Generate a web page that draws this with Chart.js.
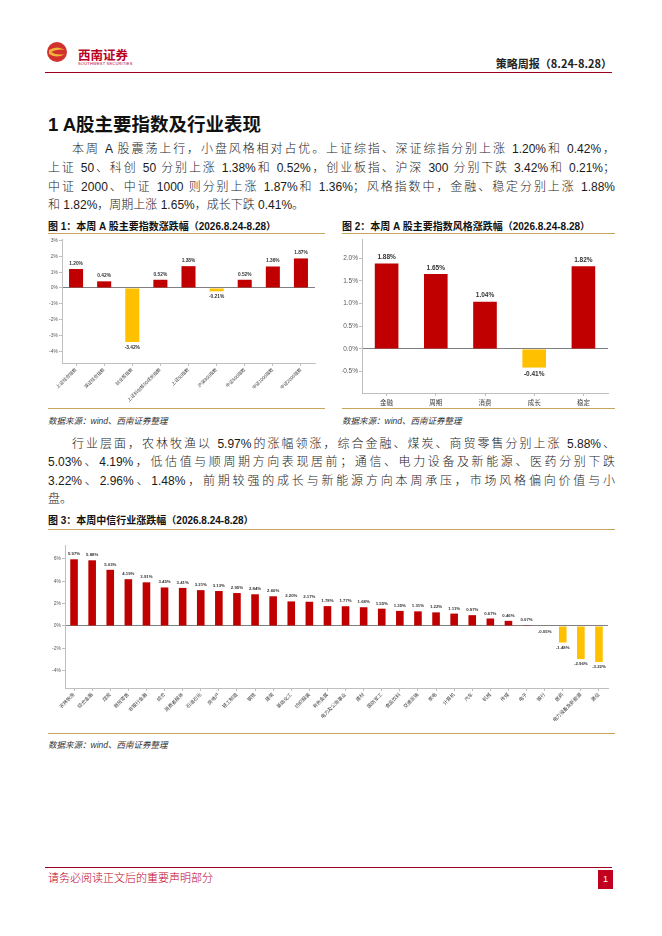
<!DOCTYPE html>
<html>
<head>
<meta charset="utf-8">
<script src="https://cdn.jsdelivr.net/npm/chart.js@4"></script>
<style>
  body { margin: 0; background: #fff; width: 662px; height: 936px; position: relative; overflow: hidden;
         font-family: "Liberation Sans", "Noto Sans CJK SC", sans-serif; color: #222; }
  .abs { position: absolute; }
  .line { position: absolute; left: 48px; width: 567px; font-size: 12px; line-height: 18px; white-space: nowrap;
          font-weight: 300; color: #1a1a1a; }
  .just { text-align: justify; text-align-last: justify; white-space: normal; }
  .cap { position: absolute; font-size: 10px; font-weight: bold; color: #111; white-space: nowrap; }
  .src { position: absolute; font-size: 8.5px; font-style: italic; color: #333; white-space: nowrap; }
  .gold { position: absolute; height: 1px; background: #C9A55C; }
  .box { position: absolute; }
</style>
</head>
<body>
<!-- header -->
<svg class="abs" style="left:46px;top:41px" width="22" height="22" viewBox="0 0 22 22">
  <circle cx="11" cy="11" r="10" fill="#D0312D"/>
  <path d="M3 9 Q11 4 19 9 Q11 7 3 12 Z" fill="#F2B33D"/>
  <path d="M3 13 Q11 18 19 13 Q11 15 3 10 Z" fill="#F2B33D"/>
</svg>
<div class="abs" style="left:78px;top:45px;font-size:12.5px;font-weight:bold;color:#B8001F;font-family:'Noto Sans CJK SC'">西南证券</div>
<div class="abs" style="left:78px;top:61px;font-size:4px;color:#B8001F;letter-spacing:0.2px">SOUTHWEST SECURITIES</div>
<div class="abs" style="right:50px;top:55px;font-size:11px;font-weight:bold;color:#222;font-family:'Noto Sans CJK SC'">策略周报（8.24-8.28）</div>
<div class="abs" style="left:45px;top:72px;width:567px;height:1px;background:#A0001E"></div>

<div class="abs" style="left:48px;top:110px;font-size:18.5px;font-weight:bold;color:#111">1 A股主要指数及行业表现</div>

<div class="line just" style="top:140px;padding-left:24px;width:543px">本周 A 股震荡上行，小盘风格相对占优。上证综指、深证综指分别上涨 1.20%和 0.42%，</div>
<div class="line just" style="top:159px">上证 50、科创 50 分别上涨 1.38%和 0.52%，创业板指、沪深 300 分别下跌 3.42%和 0.21%；</div>
<div class="line just" style="top:178px">中证 2000、中证 1000 则分别上涨 1.87%和 1.36%；风格指数中，金融、稳定分别上涨 1.88%</div>
<div class="line" style="top:196px">和 1.82%，周期上涨 1.65%，成长下跌 0.41%。</div>

<div class="cap" style="left:48px;top:218px">图 1：本周 A 股主要指数涨跌幅（2026.8.24-8.28）</div>
<div class="cap" style="left:342px;top:218px">图 2：本周 A 股主要指数风格涨跌幅（2026.8.24-8.28）</div>
<div class="gold" style="left:48px;top:233px;width:277px"></div>
<div class="gold" style="left:342px;top:233px;width:273px"></div>
<div class="box" style="left:48px;top:235px;width:277px;height:170px"><canvas id="chart1"></canvas></div>
<div class="box" style="left:342px;top:235px;width:273px;height:172px"><canvas id="chart2"></canvas></div>
<div class="gold" style="left:48px;top:408px;width:277px"></div>
<div class="gold" style="left:342px;top:408px;width:273px"></div>
<div class="src" style="left:48px;top:414px">数据来源：wind、西南证券整理</div>
<div class="src" style="left:342px;top:414px">数据来源：wind、西南证券整理</div>

<div class="line just" style="top:435px;padding-left:24px;width:543px">行业层面，农林牧渔以 5.97%的涨幅领涨，综合金融、煤炭、商贸零售分别上涨 5.88%、</div>
<div class="line just" style="top:453px">5.03%、4.19%，低估值与顺周期方向表现居前；通信、电力设备及新能源、医药分别下跌</div>
<div class="line just" style="top:472px">3.22%、2.96%、1.48%，前期较强的成长与新能源方向本周承压，市场风格偏向价值与小</div>
<div class="line" style="top:490px">盘。</div>

<div class="cap" style="left:48px;top:512px">图 3：本周中信行业涨跌幅（2026.8.24-8.28）</div>
<div class="gold" style="left:48px;top:529px;width:567px"></div>
<div class="box" style="left:48px;top:532px;width:567px;height:200px"><canvas id="chart3"></canvas></div>
<div class="gold" style="left:48px;top:733px;width:567px"></div>
<div class="src" style="left:48px;top:738px">数据来源：wind、西南证券整理</div>

<!-- footer -->
<div class="abs" style="left:45px;top:867px;width:567px;height:1px;background:#A0001E"></div>
<div class="abs" style="left:48px;top:869px;font-size:11px;color:#C0002A;font-family:'Noto Sans CJK SC';font-weight:300">请务必阅读正文后的重要声明部分</div>
<div class="abs" style="left:598px;top:870px;width:15px;height:19px;background:#C0001E;color:#fff;font-size:9px;text-align:center;line-height:19px">1</div>

<script>
// 图1 主要指数
const indexLabels = ["上证综合指数", "深证综合指数", "创业板指数", "上证科创板50成份指数", "上证50指数",
  "沪深300指数", "中证500指数", "中证1000指数", "中证2000指数"];
const indexValues = [1.20, 0.42, -3.42, 0.52, 1.38, -0.21, 0.52, 1.36, 1.87];

// 图2 风格指数
const styleLabels = ["金融", "周期", "消费", "成长", "稳定"];
const styleValues = [1.88, 1.65, 1.04, -0.41, 1.82];

// 图3 中信行业
const industryLabels = ["农林牧渔", "综合金融", "煤炭", "商贸零售", "非银行金融", "综合", "消费者服务",
  "石油石化", "房地产", "轻工制造", "钢铁", "建筑", "基础化工", "纺织服装", "有色金属", "电力及公用事业",
  "建材", "国防军工", "食品饮料", "交通运输", "家电", "计算机", "汽车", "机械", "传媒", "电子", "银行",
  "医药", "电力设备及新能源", "通信"];
const industryValues = [5.97, 5.88, 5.03, 4.19, 3.91, 3.45, 3.41, 3.21, 3.13, 2.95, 2.84, 2.66, 2.20,
  2.17, 1.78, 1.77, 1.68, 1.55, 1.35, 1.31, 1.22, 1.11, 0.97, 0.67, 0.46, 0.07, -0.05, -1.48, -2.96, -3.22];

const RED = "#C00000";
const YELLOW = "#FFC000";
const FONT = '"Liberation Sans", "Noto Sans CJK SC", sans-serif';

// 柱子上方/下方的数值标签
const valueLabels = {
  id: "valueLabels",
  afterDatasetsDraw(chart, args, opts) {
    const ctx = chart.ctx;
    const meta = chart.getDatasetMeta(0);
    const data = chart.data.datasets[0].data;
    ctx.save();
    ctx.font = "bold " + opts.size + "px " + FONT;
    ctx.fillStyle = "#333";
    ctx.textAlign = "center";
    meta.data.forEach(function (bar, i) {
      const v = data[i];
      const txt = v.toFixed(2) + "%";
      if (v >= 0) {
        ctx.textBaseline = "bottom";
        ctx.fillText(txt, bar.x, bar.y - opts.gap);
      } else {
        ctx.textBaseline = "top";
        ctx.fillText(txt, bar.x, bar.y + opts.gap);
      }
    });
    ctx.restore();
  }
};

function makeBarChart(id, labels, values, cfg) {
  const ctx = document.getElementById(id).getContext("2d");
  return new Chart(ctx, {
    type: "bar",
    data: {
      labels: labels,
      datasets: [{
        data: values,
        backgroundColor: values.map(v => (v >= 0 ? RED : YELLOW)),
        barPercentage: cfg.barPct,
        categoryPercentage: 1
      }]
    },
    plugins: [valueLabels],
    options: {
      responsive: true,
      maintainAspectRatio: false,
      animation: false,
      layout: { padding: { left: 0, top: cfg.top, right: cfg.right, bottom: 0 } },
      plugins: {
        legend: { display: false },
        tooltip: { enabled: false },
        valueLabels: { size: cfg.labelSize, gap: cfg.gap }
      },
      scales: {
        x: {
          grid: { display: true, drawOnChartArea: false, offset: false, tickLength: 3, color: "#BFBFBF" },
          border: { color: "#BFBFBF" },
          ticks: {
            autoSkip: false,
            minRotation: cfg.rot,
            maxRotation: cfg.rot,
            padding: cfg.xPad,
            color: "#404040",
            font: { family: FONT, size: cfg.xFont }
          },
          afterFit: function (scale) { scale.height = cfg.xHeight; }
        },
        y: {
          min: cfg.min,
          max: cfg.max,
          afterBuildTicks: function (scale) {
            const t = [];
            for (let v = cfg.first; v >= cfg.min - 1e-9; v -= cfg.step) t.push({ value: Math.round(v * 100) / 100 });
            scale.ticks = t.reverse();
          },
          grid: {
            drawOnChartArea: true,
            tickLength: 3,
            color: c => (c.tick && c.tick.value === 0 ? "#808080" : "rgba(0,0,0,0)"),
            tickColor: "#BFBFBF"
          },
          border: { color: "#BFBFBF" },
          ticks: {
            padding: 1,
            color: "#595959",
            font: { family: FONT, size: cfg.yFont },
            callback: v => v.toFixed(cfg.dec) + "%"
          },
          afterFit: function (scale) { scale.width = cfg.yWidth; }
        }
      }
    }
  });
}

makeBarChart("chart1", indexLabels, indexValues, {
  barPct: 0.5, top: 2, right: 10, labelSize: 4.8, gap: 3, rot: 45, xFont: 4.5, xPad: 1, xHeight: 42,
  min: -4.75, max: 3.1, first: 3, step: 1, dec: 0, yFont: 5, yWidth: 14
});

makeBarChart("chart2", styleLabels, styleValues, {
  barPct: 0.48, top: 2, right: 7, labelSize: 6.5, gap: 3, rot: 0, xFont: 6.5, xPad: 3, xHeight: 14,
  min: -0.97, max: 2.4, first: 2, step: 0.5, dec: 1, yFont: 6.5, yWidth: 20
});

makeBarChart("chart3", industryLabels, industryValues, {
  barPct: 0.42, top: 13, right: 7, labelSize: 4.3, gap: 3, rot: 45, xFont: 4.8, xPad: 1, xHeight: 44,
  min: -5.55, max: 7.25, first: 6, step: 2, dec: 0, yFont: 5, yWidth: 17
});
</script>
</body>
</html>
